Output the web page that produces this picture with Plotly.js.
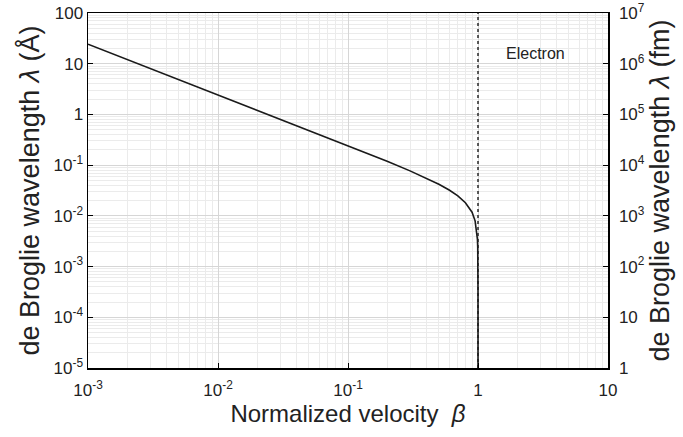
<!DOCTYPE html>
<html>
<head>
<meta charset="utf-8">
<script src="https://cdn.plot.ly/plotly-3.0.1.min.js"></script>
<style>html,body{margin:0;padding:0;background:#fff;}#chart{width:683px;height:437px;}</style>
</head>
<body>
<div id="chart"></div>
<script>
// Curve: normalized velocity beta vs wavelength (Å)
const beta = [0.001, 0.003, 0.01, 0.03, 0.1, 0.2, 0.3, 0.4, 0.5, 0.6, 0.7, 0.8, 0.9, 0.95, 0.98, 0.99, 0.995, 0.998, 0.999, 0.9999, 0.99999, 0.999999, 0.9999999, 0.99999999];
const lambdaA = [24.3, 8.09, 2.43, 0.809, 0.241, 0.119, 0.0771, 0.0556, 0.0420, 0.0323, 0.0248, 0.0182, 0.0118, 0.00797, 0.00493, 0.00344, 0.00243, 0.00154, 0.00109, 0.000343, 0.000108, 0.0000343, 0.0000108, 0.0000034];
// Speed of light marker line
const cLineX = [1, 1];
const cLineY = [0.00001, 100];
// Tick labels
const xTickVals = [0.001, 0.01, 0.1, 1, 10];
const xTickText = ['10<sup>-3</sup>', '10<sup>-2</sup>', '10<sup>-1</sup>', '1', '10'];
const yTickVals = [1e-5, 1e-4, 1e-3, 1e-2, 1e-1, 1, 10, 100];
const yTickText = ['10<sup>-5</sup>', '10<sup>-4</sup>', '10<sup>-3</sup>', '10<sup>-2</sup>', '10<sup>-1</sup>', '1', '10', '100'];
const y2TickVals = [1, 10, 100, 1e3, 1e4, 1e5, 1e6, 1e7];
const y2TickText = ['1', '10', '10<sup>2</sup>', '10<sup>3</sup>', '10<sup>4</sup>', '10<sup>5</sup>', '10<sup>6</sup>', '10<sup>7</sup>'];
const label = 'Electron';

// minor grid positions (2..9 within each decade)
function minorVals(lo, hi) {
  const v = [];
  for (let e = lo; e < hi; e++) for (let m = 2; m <= 9; m++) v.push(m * Math.pow(10, e));
  return v;
}

const font = 'Liberation Sans, Arial, sans-serif';
const gridMajor = '#d6d6d6';
const gridMinor = '#ebebeb';

const traces = [
  {x: beta, y: lambdaA, type: 'scatter', mode: 'lines', line: {color: '#1a1a1a', width: 1.6}, hoverinfo: 'skip', showlegend: false},
  {x: cLineX, y: cLineY, type: 'scatter', mode: 'lines', line: {color: '#1a1a1a', width: 1.4, dash: 'dot'}, hoverinfo: 'skip', showlegend: false},
  {x: [1], y: [1], yaxis: 'y2', type: 'scatter', mode: 'markers', marker: {opacity: 0}, hoverinfo: 'skip', showlegend: false}
];

const axisCommon = {
  type: 'log', showline: true, linecolor: '#000', linewidth: 1.5,
  ticks: 'inside', ticklen: 5, tickcolor: '#000', tickwidth: 1,
  showgrid: true, gridcolor: gridMajor, gridwidth: 1, zeroline: false,
  tickfont: {family: font, size: 17, color: '#222'}
};

const layout = {
  width: 683, height: 437,
  margin: {l: 88, r: 75, t: 13, b: 69},
  paper_bgcolor: '#fff', plot_bgcolor: '#fff',
  font: {family: font, color: '#222'},
  xaxis: Object.assign({}, axisCommon, {
    range: [-3, 1], tickmode: 'array', tickvals: xTickVals, ticktext: xTickText,
    mirror: true, ticklabelstandoff: 6,
    minor: {tickmode: 'array', tickvals: minorVals(-3, 1), showgrid: true, gridcolor: gridMinor, gridwidth: 1, ticks: ''},
    title: {text: 'Normalized velocity  <i>β</i>', font: {family: font, size: 24, color: '#222'}, standoff: 2}
  }),
  yaxis: Object.assign({}, axisCommon, {
    range: [-5, 2], tickmode: 'array', tickvals: yTickVals, ticktext: yTickText,
    mirror: true,
    minor: {tickmode: 'array', tickvals: minorVals(-5, 2), showgrid: true, gridcolor: gridMinor, gridwidth: 1, ticks: ''},
    title: {text: 'de Broglie wavelength <i>λ</i> (Å)', font: {family: font, size: 27, color: '#222'}, standoff: 6}
  }),
  yaxis2: Object.assign({}, axisCommon, {
    overlaying: 'y', side: 'right', range: [0, 7], showgrid: false,
    ticklabelstandoff: 6,
    tickmode: 'array', tickvals: y2TickVals, ticktext: y2TickText,
    title: {text: 'de Broglie wavelength <i>λ</i> (fm)', font: {family: font, size: 27, color: '#222'}, standoff: 2}
  }),
  annotations: [
    {xref: 'x', yref: 'y', x: 0.44, y: 1.2, text: label, showarrow: false, font: {family: font, size: 16, color: '#222'}}
  ]
};

Plotly.newPlot('chart', traces, layout, {staticPlot: true, displayModeBar: false});
</script>
</body>
</html>
